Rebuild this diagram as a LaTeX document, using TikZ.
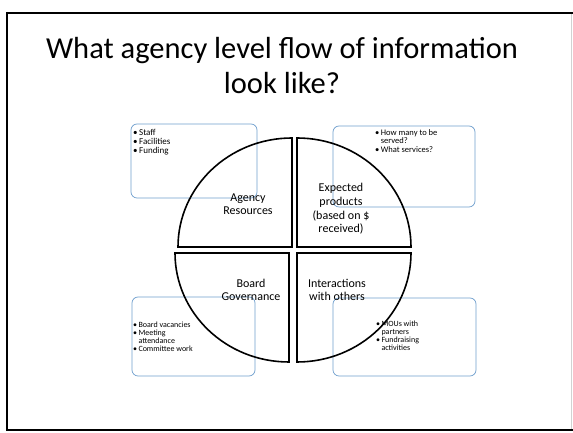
\documentclass[tikz,border=0pt]{standalone}
\usepackage{fontspec}
\setmainfont{Carlito}
\usetikzlibrary{positioning}
\newcommand{\unitsize}{1pt}
\definecolor{boxblue}{RGB}{110,158,205}

\begin{document}
\begin{tikzpicture}[x=\unitsize,y=\unitsize]
\useasboundingbox (0,0) rectangle (573,433);
\tikzstyle{slice}=[draw, line width=1.6pt, line join=miter]
\tikzstyle{infobox}=[draw=boxblue, line width=0.7pt, rounded corners=6pt]
\tikzstyle{label}=[align=center, inner sep=0pt, font=\fontsize{12}{13.6}\selectfont]
\tikzstyle{bullets}=[anchor=north west, inner sep=0pt, align=left]
\renewcommand{\arraystretch}{0.85}
% slide frame
\draw[line width=2.2pt] (7,421) -- (7,2);
\draw[line width=1.1pt] (6,420) -- (573,420);
\draw[line width=1.1pt] (6,3) -- (573,3);
\draw[gray!35, line width=0.5pt] (571,419) -- (571,4);
% title
\node[align=center, font=\fontsize{30.5}{35}\selectfont] (title) at (282,367)
  {What agency level flow of information\\look like?};
% information boxes behind the pie
\draw[infobox] (131,235) rectangle (257,309);
\draw[infobox] (333,226) rectangle (475,307);
\draw[infobox] (132,57) rectangle (255,136);
\draw[infobox] (333,57) rectangle (476,135);
\node[bullets, font=\fontsize{9}{10}\selectfont] (resbox) at (133,304)
  {\begin{tabular}{@{}l@{\,}l@{}}\textbullet & Staff\\ \textbullet & Facilities\\ \textbullet & Funding\end{tabular}};
\node[bullets, font=\fontsize{8.5}{9.5}\selectfont] (prodbox) at (375,304)
  {\begin{tabular}{@{}l@{\,}l@{}}\textbullet & How many to be\\ & served?\\[1pt] \textbullet & What services?\end{tabular}};
\node[bullets, font=\fontsize{8}{9}\selectfont] (govbox) at (133,111)
  {\begin{tabular}{@{}l@{\,}l@{}}\textbullet & Board vacancies\\ \textbullet & Meeting\\ & attendance\\ \textbullet & Committee work\end{tabular}};
\node[bullets, font=\fontsize{8}{9}\selectfont] (partbox) at (376,112)
  {\begin{tabular}{@{}l@{\,}l@{}}\textbullet & MOUs with\\ & partners\\ \textbullet & Fundraising\\ & activities\end{tabular}};
% the four slices of the pie
\draw[slice] (292,186) -- ++(-114,0) arc[start angle=180, end angle=90, x radius=114, y radius=109] -- cycle;
\draw[slice] (297,186) -- ++(0,109) arc[start angle=90, end angle=0, x radius=114, y radius=109] -- cycle;
\draw[slice] (297,180) -- ++(114,0) arc[start angle=0, end angle=-90, x radius=114, y radius=109] -- cycle;
\draw[slice] (289,180) -- ++(0,-109) arc[start angle=270, end angle=180, x radius=114, y radius=109] -- cycle;
% slice labels
\node[label] (agency) at (248,229) {Agency\\Resources};
\node[label] (expected) at (341,224) {Expected\\products\\(based on \$\\received)};
\node[label] (board) at (251,143) {Board\\Governance};
\node[label] (interact) at (337,143) {Interactions\\with others};
\end{tikzpicture}
\end{document}
